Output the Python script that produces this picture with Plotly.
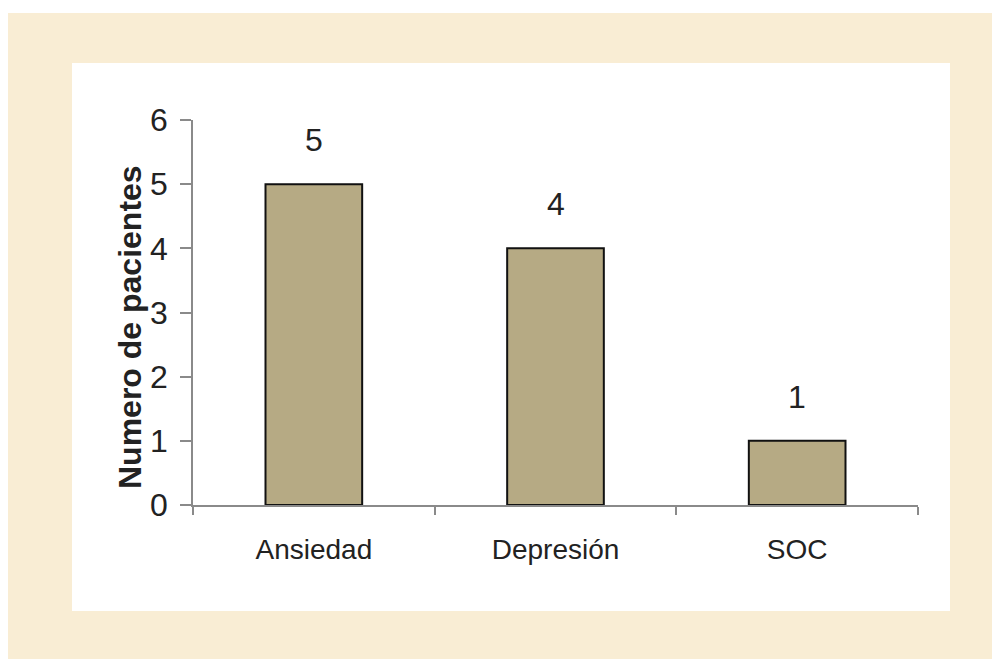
import plotly.graph_objects as go

categories = ["Ansiedad", "Depresión", "SOC"]
values = [5, 4, 1]
y_ticks = [0, 1, 2, 3, 4, 5, 6]
y_title = "Numero de pacientes"

OFF = 8  # page body margin in the browser
SW, SH = 1000, 659  # screen size
L, R, T, B = 193, 918, 120, 505  # plot area, screen pixels
W, H = SW - OFF, SH - OFF


def px_x(sx):
    return (sx - L) / (R - L)


def px_y(sy):
    return (B - sy) / (B - T)


font_fam = "Liberation Sans, Arial, sans-serif"

fig = go.Figure()
fig.add_trace(go.Bar(
    x=categories,
    y=values,
    width=0.4,
    marker=dict(color="#b6aa84", line=dict(color="#111111", width=2)),
    hoverinfo="x+y",
))

for c, v in zip(categories, values):
    fig.add_annotation(x=c, y=v, text=str(v), showarrow=False,
                       yanchor="middle", yshift=44,
                       font=dict(family=font_fam, size=32, color="#222222"))

fig.add_annotation(xref="paper", yref="paper", x=px_x(130), y=px_y(327),
                   text=y_title, textangle=-90, showarrow=False,
                   font=dict(family=font_fam, size=32, color="#222222", weight="bold"),
                   xanchor="center", yanchor="middle")

fig.update_layout(
    width=W, height=H,
    margin=dict(l=L - OFF, r=SW - R, t=T - OFF, b=SH - B, pad=0),
    paper_bgcolor="white",
    plot_bgcolor="rgba(0,0,0,0)",
    showlegend=False,
    shapes=[
        dict(type="rect", xref="paper", yref="paper", layer="below",
             x0=px_x(8), x1=px_x(1010), y0=px_y(680), y1=px_y(13),
             fillcolor="#f9edd4", line=dict(width=0)),
        dict(type="rect", xref="paper", yref="paper", layer="below",
             x0=px_x(72), x1=px_x(950), y0=px_y(611), y1=px_y(63),
             fillcolor="white", line=dict(width=0)),
    ],
    xaxis=dict(
        type="category", range=[-0.5, 2.5],
        showline=True, linecolor="#8a8a8a", linewidth=1.5,
        ticks="outside", tickson="boundaries", ticklen=8,
        tickcolor="#8a8a8a", tickwidth=1.5,
        showgrid=False, zeroline=False,
        tickfont=dict(family=font_fam, size=28, color="#222222"),
        ticklabelstandoff=19,
    ),
    yaxis=dict(
        range=[0, 6], tickvals=y_ticks,
        showline=True, linecolor="#8a8a8a", linewidth=1.5,
        ticks="outside", ticklen=11, tickcolor="#8a8a8a", tickwidth=1.5,
        showgrid=False, zeroline=False,
        tickfont=dict(family=font_fam, size=32, color="#222222"),
        ticklabelstandoff=6,
    ),
)

fig.write_html("out.html")
